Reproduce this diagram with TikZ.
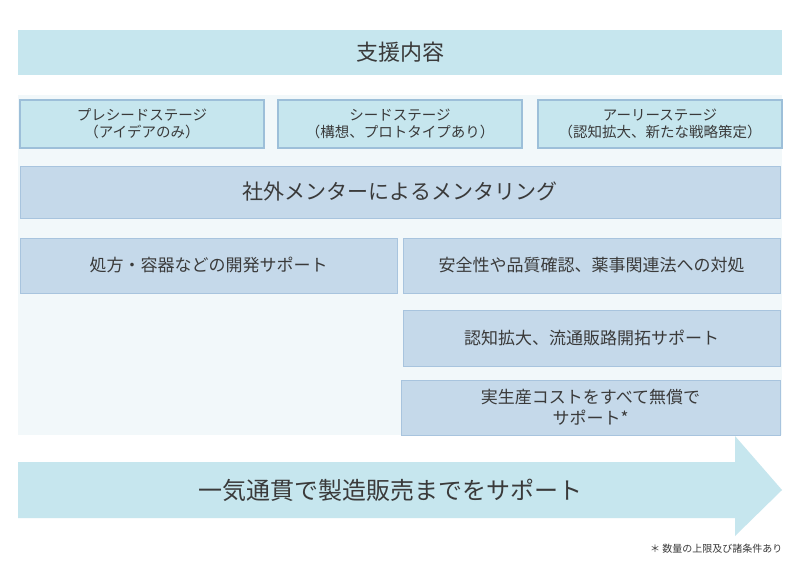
\documentclass[tikz,border=0pt]{standalone}
\usepackage{fontspec}
\setmainfont{Noto Sans CJK JP}
\begin{document}
\begin{tikzpicture}[x=1pt,y=-1pt,
  lb/.style={fill=lb1,draw=lbd,line width=1.5pt,text=txt,align=center,inner sep=0pt},
  mb/.style={fill=mb1,draw=mbd,line width=1pt,text=txt,align=center,inner sep=0pt}]
\definecolor{lb1}{HTML}{C6E6EE}\definecolor{lbd}{HTML}{9DBFD9}
\definecolor{mb1}{HTML}{C5D9EA}\definecolor{mbd}{HTML}{A8C4DE}
\definecolor{txt}{HTML}{3A3A3A}\definecolor{pan}{HTML}{F2F8FA}
\useasboundingbox[fill=white] (0,0) rectangle (800,565);
\fill[pan] (18,95) rectangle (782,435);
\node[fill=lb1,text=txt,minimum width=764pt,minimum height=45pt,inner sep=0pt,font=\fontsize{22}{26}\selectfont] (top) at (400,52.5) {支援内容};
\node[lb,minimum width=244pt,minimum height=48pt,font=\fontsize{14.5}{17}\selectfont] (s1) at (142,124) {プレシードステージ\\（アイデアのみ）};
\node[lb,minimum width=244pt,minimum height=48pt,font=\fontsize{14.5}{17}\selectfont] (s2) at (400,124) {シードステージ\\（構想、プロトタイプあり）};
\node[lb,minimum width=244pt,minimum height=48pt,font=\fontsize{14.5}{17}\selectfont] (s3) at (660,124) {アーリーステージ\\（認知拡大、新たな戦略策定）};
\node[mb,minimum width=760pt,minimum height=52pt,font=\fontsize{21}{24}\selectfont] (m) at (400,192) {社外メンターによるメンタリング};
\node[mb,minimum width=377pt,minimum height=55pt,font=\fontsize{17}{20}\selectfont] (a) at (208.5,265.5) {処方・容器などの開発サポート};
\node[mb,minimum width=377pt,minimum height=55pt,font=\fontsize{17}{20}\selectfont] (b) at (591.5,265.5) {安全性や品質確認、薬事関連法への対処};
\node[mb,minimum width=377pt,minimum height=56pt,font=\fontsize{17}{20}\selectfont] (c) at (591.5,338) {認知拡大、流通販路開拓サポート};
\node[mb,minimum width=379pt,minimum height=55pt,font=\fontsize{17}{21}\selectfont] (d) at (590.5,407.5) {実生産コストをすべて無償で\\サポート*};
\fill[lb1] (18,462) -- (735,462) -- (735,436) -- (782,490) -- (735,536) -- (735,518) -- (18,518) -- cycle;
\node[text=txt,font=\fontsize{24}{28}\selectfont] (arr) at (390,490) {一気通貫で製造販売までをサポート};
\node[text=txt,anchor=east,font=\fontsize{10}{12}\selectfont] (fn) at (786,549) {＊ 数量の上限及び諸条件あり};
\end{tikzpicture}
\end{document}
